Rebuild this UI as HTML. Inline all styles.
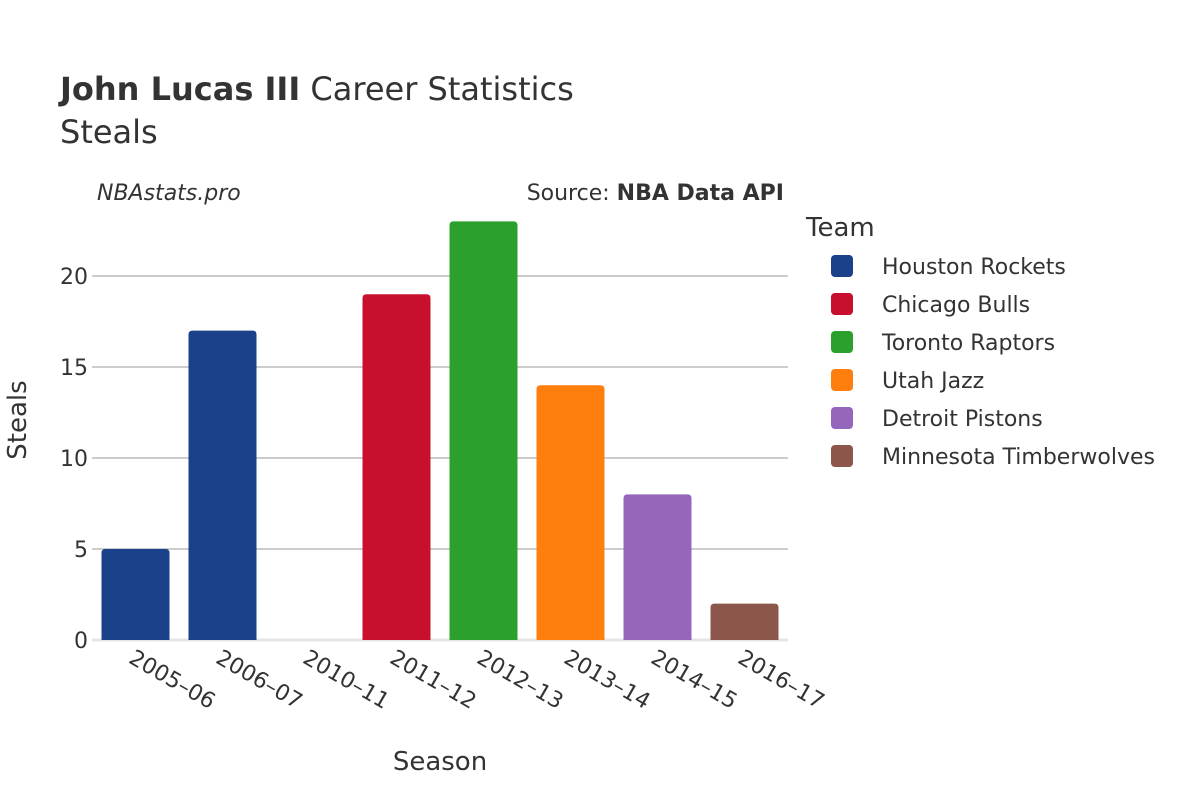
<!DOCTYPE html>
<html><head><meta charset="utf-8"><style>
body{margin:0;background:#fff;}
svg{display:block;font-family:"DejaVu Sans","Liberation Sans",sans-serif;}
</style></head><body>
<svg id="chart" width="1200" height="800" viewBox="0 0 1200 800">
<rect width="1200" height="800" fill="#fff"/>
<text x="60" y="100" font-size="32" fill="#333"><tspan font-weight="bold">John Lucas III</tspan> Career Statistics</text>
<text x="60" y="143" font-size="32" fill="#333">Steals</text>
<text x="97" y="200" font-size="22" font-style="italic" fill="#333">NBAstats.pro</text>
<text x="784" y="200" font-size="22" text-anchor="end" fill="#333">Source: <tspan font-weight="bold">NBA Data API</tspan></text>
<g id="grid"></g>
<g id="bars"></g>
<g id="xticks"></g>
<text transform="translate(26,420) rotate(-90)" font-size="26" text-anchor="middle" fill="#333">Steals</text>
<text x="440" y="770" font-size="26" text-anchor="middle" fill="#333">Season</text>
<text x="806" y="236" font-size="26" fill="#333">Team</text>
<g id="legend"></g>
</svg>
<script>
const categories=["2005–06","2006–07","2010–11","2011–12","2012–13","2013–14","2014–15","2016–17"];
const values=[5,17,0,19,23,14,8,2];
const barTeams=["Houston Rockets","Houston Rockets","Houston Rockets","Chicago Bulls","Toronto Raptors","Utah Jazz","Detroit Pistons","Minnesota Timberwolves"];
const teams=["Houston Rockets","Chicago Bulls","Toronto Raptors","Utah Jazz","Detroit Pistons","Minnesota Timberwolves"];
const teamColors=["#1a4189","#c8102e","#2ca02c","#ff7f0e","#9467bd","#8c564b"];
const yTicks=[0,5,10,15,20];
const NS="http://www.w3.org/2000/svg";
const x0=92,x1=788,yZero=640,yPer=18.2;
const band=(x1-x0)/categories.length;
const y=v=>yZero-v*yPer;
const xc=i=>x0+band*(i+0.5);
function mk(t,a,p){const e=document.createElementNS(NS,t);for(const k in a)e.setAttribute(k,a[k]);p.appendChild(e);return e;}
const grid=document.getElementById('grid');
yTicks.forEach(t=>{
  const l=mk('line',{x1:x0,x2:x1,y1:y(t),y2:y(t),stroke:t===0?'#e5e5e5':'#999','stroke-width':t===0?3:1},grid);
  
  
  const tx=mk('text',{x:x0-4,y:y(t)+8,'font-size':22,'text-anchor':'end',fill:'#333'},grid);
  tx.textContent=t;
  
  
});
const bars=document.getElementById('bars');
const bw=68;
values.forEach((v,i)=>{
  const h=v*yPer,xl=xc(i)-bw/2,top=y(v),r=Math.min(4,h);
  const d=`M${xl},${yZero}V${top+r}Q${xl},${top} ${xl+r},${top}H${xl+bw-r}Q${xl+bw},${top} ${xl+bw},${top+r}V${yZero}Z`;
  const p=mk('path',{d:d,fill:teamColors[teams.indexOf(barTeams[i])]},bars);
  
  
});
const xt=document.getElementById('xticks');
categories.forEach((c,i)=>{
  const t=mk('text',{transform:`translate(${xc(i)-8},${662}) rotate(30)`,'font-size':22,fill:'#333'},xt);
  t.textContent=c;
  
  
});
const lg=document.getElementById('legend');
teams.forEach((tm,i)=>{
  const yy=266+i*38;
  const g=mk('g',{},lg);
  
  
  mk('rect',{x:831,y:yy-11,width:22,height:22,rx:4,fill:teamColors[i]},g);
  const t=mk('text',{x:882,y:yy+8,'font-size':22,fill:'#333'},g);
  t.textContent=tm;
});
</script>
</body></html>
